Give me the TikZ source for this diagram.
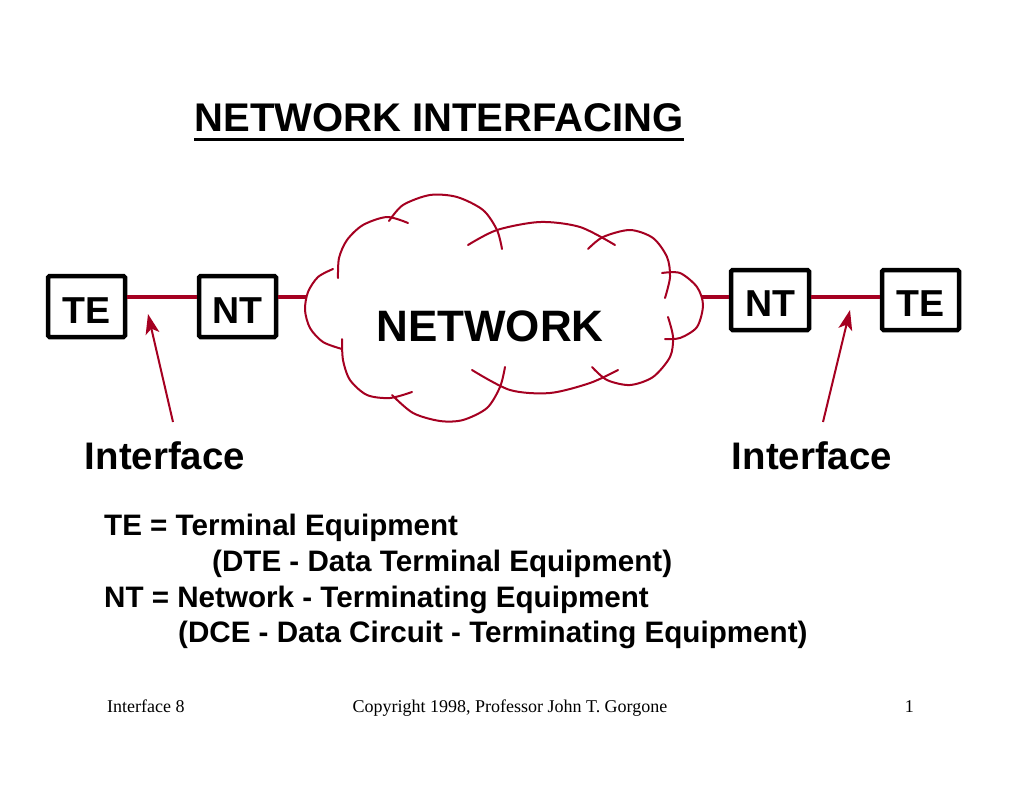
\documentclass[tikz,border=0pt]{standalone}
\usepackage{fontspec}
\setmainfont{Liberation Sans}
\newfontfamily\footfont{Liberation Serif}
\usetikzlibrary{arrows.meta}
\definecolor{netred}{RGB}{165,0,33}
\begin{document}
\begin{tikzpicture}[x=1pt,y=-1pt,
  box/.style={draw=black, line width=4.5pt, rounded corners=1.5pt, fill=white,
    inner sep=0pt, text height=33pt, text depth=0pt,
    font=\fontsize{37.5}{40}\selectfont\bfseries},
  redline/.style={draw=netred, line width=4.5pt},
  cloudline/.style={draw=netred, line width=2pt, line cap=round},
  ptr/.style={draw=netred, line width=2pt, -{Stealth[length=20pt,width=14pt,inset=5pt]}},
  lbl/.style={inner sep=0pt, font=\fontsize{38.4}{40}\selectfont\bfseries},
  legend/.style={inner sep=0pt, anchor=base west, font=\fontsize{29.6}{32}\selectfont\bfseries},
  foot/.style={inner sep=0pt, anchor=base, font=\fontsize{18}{20}\selectfont\footfont}
]
\useasboundingbox[fill=white] (0,0) rectangle (1020,788);

% title
\node[inner sep=0pt, font=\fontsize{40}{44}\selectfont\bfseries] (title) at (439,118) {NETWORK INTERFACING};
\draw[line width=3pt] ([yshift=-8pt]title.base west) -- ([yshift=-8pt]title.base east);

% boxes
\node[box, minimum width=77pt, minimum height=61pt] (te1) at (86.5,306.5) {TE};
\node[box, minimum width=77pt, minimum height=61pt] (nt1) at (237.5,306.5) {NT};
\node[box, minimum width=78pt, minimum height=60pt] (nt2) at (770,300) {NT};
\node[box, minimum width=77pt, minimum height=60pt] (te2) at (920.5,300) {TE};

% cloud
\coordinate (cl) at (306,297);
\coordinate (cr) at (702,297);
\draw[cloudline] plot[smooth] coordinates {(333,269) (318,277) (308,292) (305,310) (310,328) (323,342) (342,349)};
\draw[cloudline] plot[smooth] coordinates {(338,278) (339,258) (347,240) (363,225) (387,217) (408,223)};
\draw[cloudline] plot[smooth] coordinates {(389,221) (403,205) (430,195) (457,197) (483,210) (497,230) (502,249)};
\draw[cloudline] plot[smooth] coordinates {(468,245) (497,230) (540,222) (580,227) (615,245)};
\draw[cloudline] plot[smooth] coordinates {(588,249) (603,237) (630,230) (653,238) (667,257) (670,277) (665,298)};
\draw[cloudline] plot[smooth] coordinates {(662,273) (680,273) (697,287) (703,305) (697,327) (680,338) (665,339)};
\draw[cloudline] plot[smooth] coordinates {(668,317) (673,337) (670,357) (653,377) (630,385) (607,380) (592,367)};
\draw[cloudline] plot[smooth] coordinates {(618,370) (590,383) (550,393) (510,390) (472,370)};
\draw[cloudline] plot[smooth] coordinates {(505,367) (500,387) (487,408) (463,420) (440,421) (413,413) (392,395)};
\draw[cloudline] plot[smooth] coordinates {(412,392) (390,398) (367,395) (350,380) (343,360) (342,339)};
\node[inner sep=0pt, font=\fontsize{44}{48}\selectfont\bfseries] (net) at (490,326) {NETWORK};

% links
\draw[redline] ([yshift=9.5pt]te1.east) -- ([yshift=9.5pt]nt1.west);
\draw[redline] ([yshift=9.5pt]nt1.east) -- (cl);
\draw[redline] (cr) -- ([yshift=3pt]nt2.west);
\draw[redline] ([yshift=3pt]nt2.east) -- ([yshift=3pt]te2.west);

% interface labels and arrows
\node[lbl] (if1) at (165,456) {Interface};
\node[lbl] (if2) at (812,456) {Interface};
\coordinate (a1s) at (173,422);
\coordinate (a1t) at (148,314);
\coordinate (a2s) at (823,422);
\coordinate (a2t) at (850,310);
\draw[ptr] (a1s) -- (a1t);
\draw[ptr] (a2s) -- (a2t);

% legend
\node[legend] (l1) at (104,535) {TE = Terminal Equipment};
\node[legend] (l2) at (212,571) {(DTE - Data Terminal Equipment)};
\node[legend] (l3) at (104,607) {NT = Network - Terminating Equipment};
\node[legend] (l4) at (178,642) {(DCE - Data Circuit - Terminating Equipment)};

% footer
\node[foot, anchor=base west] (f1) at (107,712) {Interface 8};
\node[foot] (f2) at (510,712) {Copyright 1998, Professor John T. Gorgone};
\node[foot, anchor=base east] (f3) at (914,712) {1};
\end{tikzpicture}
\end{document}
